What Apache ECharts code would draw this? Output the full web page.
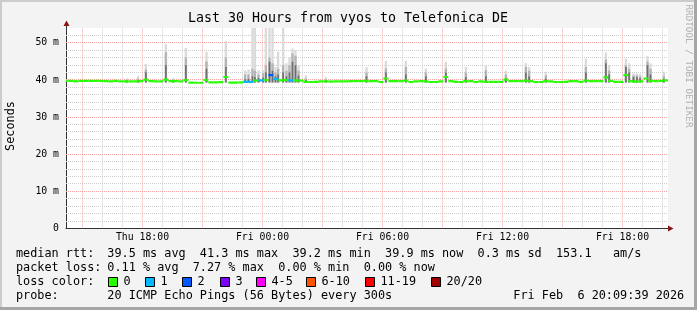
<!DOCTYPE html>
<html>
<head>
<meta charset="utf-8">
<script src="https://cdn.jsdelivr.net/npm/echarts@6/dist/echarts.min.js"></script>
<style>
html,body{margin:0;padding:0;background:#f3f3f3;}
#c{width:697px;height:310px;}
</style>
</head>
<body>
<div id="c"></div>
<script>
// ---------- data (hours counted from Thu 00:00) ----------
const medianStart = 14 + 10 / 60;   // Thu 14:10
const medianStep = 0.25;            // 15 minutes
const medianMs = [
  39.75,39.75,39.6,39.75,39.75,39.75,39.75,39.75,39.7,39.6,
  39.75,39.6,39.65,39.65,39.65,39.7,40.1,39.7,39.65,39.65,
  40.1,39.7,39.7,39.65,40.0,39.3,39.25,39.25,40.0,39.35,
  39.35,39.4,40.8,39.3,39.3,39.35,39.5,39.5,39.8,39.9,
  40.0,41.3,40.3,39.9,40.0,39.9,39.9,39.8,39.5,39.45,
  39.5,39.6,39.65,39.55,39.6,39.65,39.65,39.7,39.7,39.7,
  39.75,39.7,39.7,39.45,40.4,39.7,39.7,39.7,39.8,39.45,
  39.6,39.7,39.6,39.45,39.45,39.6,40.8,39.7,39.5,39.45,
  39.7,39.7,39.45,39.6,39.5,39.5,39.5,39.5,40.1,39.7,
  39.7,39.7,39.8,39.7,39.45,39.45,39.7,39.6,39.45,39.45,
  39.5,39.7,39.7,39.5,39.8,39.7,39.7,39.7,40.7,39.75,
  39.5,39.5,41.3,39.7,39.55,39.6,40.4,39.75,39.7,39.75,
  39.9
];
const lossPointIndex = [36, 37, 39, 41, 42, 45];
const lossPointClass = [1, 1, 1, 2, 1, 1];

const smokeT     = [17.22,17.78,18.17,19.17,19.53,20.17,21.2,22.17,23.13,23.3,23.5,23.62,23.8,24.03,24.17,24.35,24.5,24.65,24.78,25.03,25.2,25.35,25.5,25.65,25.8,26.17,27.17,29.2,30.17,31.17,32.17,33.17,34.17,35.17,36.17,37.17,37.33,38.17,40.17,41.17,41.33,42.17,42.33,42.55,42.72,42.88,43.25,43.4,44.07];
const smokeLight = [40.4,41.0,44.3,49.6,40.5,48.6,47.6,50.5,42.6,42.8,54,54,42.6,42.6,54,54,54,43.5,47.6,54,44.5,46.0,48.5,48.0,44.0,41.3,40.8,43.5,45.1,45.2,43.1,44.9,43.5,43.8,42.5,44.5,43.5,42.2,45.8,47.4,44.0,45.8,44.5,41.8,41.8,41.6,46.4,44.5,42.2];
const smokeMid   = [40.1,40.4,42.8,47.5,40.1,46.0,45.0,46.0,41.5,41.5,43.0,42.5,41.5,41.8,44.0,46.0,44.5,42.0,43.0,44.0,42.5,44.0,47.1,46.5,42.5,40.5,40.2,42.0,43.1,43.5,42.0,43.1,42.0,42.6,41.5,43.5,42.5,41.2,43.5,45.5,42.5,44.0,43.0,41.3,41.3,41.0,45.0,43.0,41.0];
const smokeDark  = [39.9,40.0,42.1,44.0,39.9,44.0,43.0,43.5,40.2,40.3,41.0,40.8,40.5,40.6,42.0,44.9,42.5,41.0,41.5,42.0,41.0,42.0,44.9,44.0,41.2,40.0,39.9,41.0,42.0,41.5,41.0,42.0,40.8,41.0,40.5,42.0,41.0,40.3,42.0,44.5,41.5,43.5,42.0,40.8,40.8,40.5,44.0,41.5,40.3];

const xTickValues = [18, 24, 30, 36, 42];
const xTickLabels = ['Thu 18:00', 'Fri 00:00', 'Fri 06:00', 'Fri 12:00', 'Fri 18:00'];
const yTickValues = [0, 10, 20, 30, 40, 50];
const yTickLabels = ['0', '10 m', '20 m', '30 m', '40 m', '50 m'];
const hourGrid  = [16,17,19,20,22,23,25,26,28,29,31,32,34,35,37,38,40,41,43,44];
const hour3Grid = [15,18,21,24,27,30,33,36,39,42];
const msMinorGrid = [2,4,6,8,12,14,16,18,22,24,26,28,32,34,36,38,42,44,46,48,52];
const msMajorGrid = [10,20,30,40,50];

const lossColors = ['#26ff00','#00b8ff','#0059ff','#7e00ff','#ff00ff','#ff5500','#ff0000','#a10000'];
const lossLabels = ['0','1','2','3','4-5','6-10','11-19','20/20'];

const rttStats  = ['39.5', '41.3', '39.2', '39.9', '0.3', '153.1'];
const lossStats = ['0.11', '7.27', '0.00', '0.00'];
const titleText = 'Last 30 Hours from vyos to Telefonica DE';
const probeText = '20 ICMP Echo Pings (56 Bytes) every 300s';
const dateText  = 'Fri Feb  6 20:09:39 2026';

// ---------- build ----------
const X_MIN = 14.175, X_MAX = 44.275, Y_MIN = 0, Y_MAX = 54;
const MONO = '"DejaVu Sans Mono", monospace';
const SMOKE_W = 7 / 60;
const SMOKE_BASE = 39.3;

const medianLoss = medianMs.map(() => 0);
lossPointIndex.forEach((idx, k) => { medianLoss[idx] = lossPointClass[k]; });
const medianData = medianMs.map((v, i) => [medianStart + i * medianStep, v, medianLoss[i]]);
const smokeData = smokeT.map((t, i) => [t, smokeLight[i], smokeMid[i], smokeDark[i]]);

function snap(p) { return Math.round(p - 0.5) + 0.5; }

function gridSeries(values, dir, color) {
  return {
    type: 'custom', silent: true, z: 1, clip: true,
    data: values.map(v => [v]),
    renderItem: function (params, api) {
      const v = api.value(0);
      if (dir === 'v') {
        const a = api.coord([v, Y_MIN]), b = api.coord([v, Y_MAX]);
        const x = snap(a[0]);
        return { type: 'line', shape: { x1: x, y1: a[1], x2: x, y2: b[1] },
                 style: { stroke: color, lineWidth: 1, lineDash: [1, 1] } };
      } else {
        const a = api.coord([X_MIN, v]), b = api.coord([X_MAX, v]);
        const y = snap(a[1]);
        return { type: 'line', shape: { x1: a[0], y1: y, x2: b[0], y2: y },
                 style: { stroke: color, lineWidth: 1, lineDash: [1, 1] } };
      }
    }
  };
}

const smokeColors = ['#dadada', '#b4b4b4', '#6e6e6e'];
const smokeSeries = {
  type: 'custom', silent: true, z: 2, clip: true,
  data: smokeData,
  renderItem: function (params, api) {
    const t = api.value(0);
    const children = [];
    for (let k = 1; k <= 3; k++) {
      const w = SMOKE_W * (k === 3 ? 0.7 : 1);
      const p0 = api.coord([t - w / 2, SMOKE_BASE]);
      const p1 = api.coord([t + w / 2, api.value(k)]);
      children.push({ type: 'rect',
        shape: { x: p0[0], y: p1[1], width: p1[0] - p0[0], height: p0[1] - p1[1] },
        style: { fill: smokeColors[k - 1] } });
    }
    return { type: 'group', children: children };
  }
};

const medianSeries = {
  type: 'custom', silent: true, z: 3, clip: true,
  data: medianData,
  renderItem: function (params, api) {
    const t = api.value(0), v = api.value(1), l = api.value(2);
    const p0 = api.coord([t - medianStep / 2, v]);
    const p1 = api.coord([t + medianStep / 2, v]);
    return { type: 'rect',
      shape: { x: p0[0], y: p0[1] - 1.1, width: p1[0] - p0[0], height: 2.2 },
      style: { fill: lossColors[l] } };
  }
};

// ---------- graphics (frame, texts, legend) ----------
const LEG_FONT = '11.84px ' + MONO;
const graphics = [
  { type: 'rect', shape: { x: 0, y: 0, width: 697, height: 2 }, style: { fill: '#cccccc' } },
  { type: 'rect', shape: { x: 0, y: 0, width: 2, height: 310 }, style: { fill: '#cccccc' } },
  { type: 'rect', shape: { x: 0, y: 307, width: 697, height: 3 }, style: { fill: '#a6a6a6' } },
  { type: 'rect', shape: { x: 694, y: 0, width: 3, height: 310 }, style: { fill: '#a6a6a6' } },
  { type: 'line', shape: { x1: 66.5, y1: 25, x2: 66.5, y2: 28 }, style: { stroke: '#333', lineWidth: 1 } },
  { type: 'polygon', shape: { points: [[63.5, 26], [66.5, 20.5], [69.5, 26]] }, style: { fill: '#8b1515' } },
  { type: 'polygon', shape: { points: [[668, 225.5], [673.5, 228.5], [668, 231.5]] }, style: { fill: '#8b1515' } },
  { type: 'text', x: 348, y: 19, style: { text: titleText, font: '13.3px ' + MONO, fill: '#000', textAlign: 'center', textVerticalAlign: 'middle' } },
  { type: 'text', x: 11, y: 126, rotation: Math.PI / 2, style: { text: 'Seconds', font: LEG_FONT, fill: '#000', textAlign: 'center', textVerticalAlign: 'middle' } },
  { type: 'text', x: 688, y: 66, rotation: -Math.PI / 2, style: { text: 'RRDTOOL / TOBI OETIKER', font: '9.3px ' + MONO, fill: '#b0b0b0', textAlign: 'center', textVerticalAlign: 'middle' } },
  { type: 'text', x: 16, y: 254, style: { text: 'median rtt:', font: LEG_FONT, fill: '#000', textVerticalAlign: 'middle' } },
  { type: 'text', x: 107.3, y: 254, style: { text: rttStats[0] + ' ms avg  ' + rttStats[1] + ' ms max  ' + rttStats[2] + ' ms min  ' + rttStats[3] + ' ms now  ' + rttStats[4] + ' ms sd  ' + rttStats[5] + '   am/s', font: LEG_FONT, fill: '#000', textVerticalAlign: 'middle' } },
  { type: 'text', x: 16, y: 268, style: { text: 'packet loss:', font: LEG_FONT, fill: '#000', textVerticalAlign: 'middle' } },
  { type: 'text', x: 107.3, y: 268, style: { text: lossStats[0] + ' % avg  ' + lossStats[1] + ' % max  ' + lossStats[2] + ' % min  ' + lossStats[3] + ' % now', font: LEG_FONT, fill: '#000', textVerticalAlign: 'middle' } },
  { type: 'text', x: 16, y: 282, style: { text: 'loss color:', font: LEG_FONT, fill: '#000', textVerticalAlign: 'middle' } },
  { type: 'text', x: 16, y: 296, style: { text: 'probe:', font: LEG_FONT, fill: '#000', textVerticalAlign: 'middle' } },
  { type: 'text', x: 107.3, y: 296, style: { text: probeText, font: LEG_FONT, fill: '#000', textVerticalAlign: 'middle' } },
  { type: 'text', x: 513.3, y: 296, style: { text: dateText, font: LEG_FONT, fill: '#000', textVerticalAlign: 'middle' } }
];
const boxX = [108.5, 145.5, 182.5, 220.5, 256.5, 306.5, 365.5, 431.5];
lossLabels.forEach((lab, k) => {
  graphics.push({ type: 'rect', shape: { x: boxX[k], y: 277.5, width: 9, height: 9 },
    style: { fill: lossColors[k], stroke: '#000', lineWidth: 1 } });
  graphics.push({ type: 'text', x: boxX[k] + 15, y: 282,
    style: { text: lab, font: LEG_FONT, fill: '#000', textVerticalAlign: 'middle' } });
});

const chart = echarts.init(document.getElementById('c'), null, { renderer: 'canvas' });
chart.setOption({
  animation: false,
  backgroundColor: '#f3f3f3',
  grid: { left: 66, right: 29, top: 28, bottom: 81.5, show: true, backgroundColor: '#ffffff', borderWidth: 0 },
  xAxis: {
    type: 'value', min: X_MIN, max: X_MAX,
    axisLine: { show: true, lineStyle: { color: '#333', width: 1 } },
    axisTick: { show: false },
    splitLine: { show: false },
    axisLabel: {
      customValues: xTickValues,
      formatter: function (v) { const i = xTickValues.indexOf(v); return i >= 0 ? xTickLabels[i] : ''; },
      color: '#000', fontFamily: MONO, fontSize: 9.8, margin: 4
    }
  },
  yAxis: {
    type: 'value', min: Y_MIN, max: Y_MAX,
    axisLine: { show: true, lineStyle: { color: '#333', width: 1 } },
    axisTick: { show: false },
    splitLine: { show: false },
    axisLabel: {
      customValues: yTickValues,
      formatter: function (v) { const i = yTickValues.indexOf(v); return i >= 0 ? yTickLabels[i] : ''; },
      color: '#000', fontFamily: MONO, fontSize: 9.8, margin: 7
    }
  },
  series: [
    gridSeries(hourGrid, 'v', '#cdcdcd'),
    gridSeries(msMinorGrid, 'h', '#cdcdcd'),
    gridSeries(hour3Grid, 'v', '#f7a3a3'),
    gridSeries(msMajorGrid, 'h', '#f7a3a3'),
    smokeSeries,
    medianSeries
  ],
  graphic: { elements: graphics }
});
</script>
</body>
</html>
